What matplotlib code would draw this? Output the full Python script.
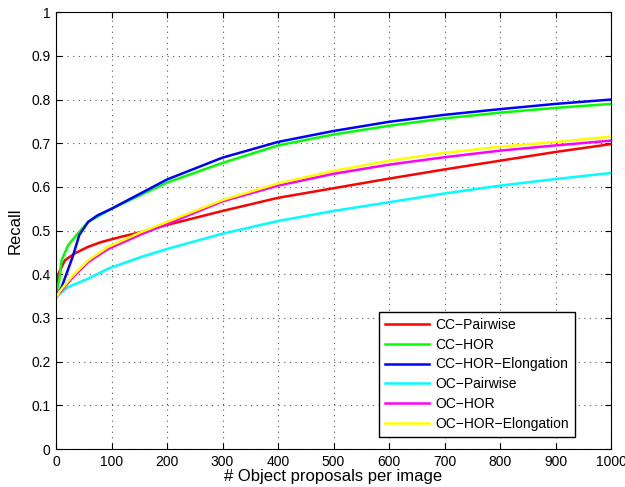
import numpy as np
import matplotlib
matplotlib.use('Agg')
import matplotlib.pyplot as plt

plt.rcParams['font.family'] = ['Liberation Sans', 'DejaVu Sans']

# Recall vs number of proposals
x_cc_pair = [0, 4, 16, 34, 58, 82, 100, 118, 154, 200, 300, 400, 500, 600, 700, 800, 900, 1000]
cc_pair = [0.35, 0.40, 0.432, 0.448, 0.463, 0.474, 0.48, 0.486, 0.497, 0.513, 0.545, 0.575, 0.597, 0.619, 0.64, 0.66, 0.68, 0.698]

x_cc_hor = [0, 6, 10, 22, 40, 58, 100, 200, 300, 400, 500, 600, 700, 800, 900, 1000]
cc_hor = [0.35, 0.39, 0.432, 0.467, 0.494, 0.52, 0.55, 0.61, 0.655, 0.695, 0.72, 0.740, 0.757, 0.77, 0.781, 0.790]

x_cc_elong = [0, 10, 20, 30, 42, 58, 75, 100, 200, 300, 400, 500, 600, 700, 800, 900, 1000]
cc_elong = [0.35, 0.37, 0.405, 0.44, 0.49, 0.52, 0.535, 0.55, 0.617, 0.667, 0.703, 0.728, 0.749, 0.765, 0.778, 0.79, 0.800]

x_oc_pair = [0, 6, 22, 58, 94, 154, 200, 300, 400, 500, 600, 700, 800, 900, 1000]
oc_pair = [0.345, 0.355, 0.371, 0.39, 0.413, 0.44, 0.458, 0.493, 0.522, 0.545, 0.565, 0.585, 0.603, 0.618, 0.632]

x_oc_hor = [0, 6, 28, 58, 94, 154, 200, 300, 400, 500, 600, 700, 800, 900, 1000]
oc_hor = [0.345, 0.357, 0.39, 0.428, 0.458, 0.492, 0.515, 0.567, 0.603, 0.63, 0.651, 0.668, 0.683, 0.695, 0.706]

x_oc_elong = [0, 6, 28, 58, 94, 154, 200, 300, 400, 500, 600, 700, 800, 900, 1000]
oc_elong = [0.345, 0.36, 0.394, 0.432, 0.463, 0.497, 0.52, 0.57, 0.608, 0.637, 0.66, 0.678, 0.692, 0.703, 0.715]

labels = ['CC\u2212Pairwise', 'CC\u2212HOR', 'CC\u2212HOR\u2212Elongation',
          'OC\u2212Pairwise', 'OC\u2212HOR', 'OC\u2212HOR\u2212Elongation']
colors = ['#ff0000', '#00ff00', '#0000ff', '#00ffff', '#ff00ff', '#ffff00']
xs = [x_cc_pair, x_cc_hor, x_cc_elong, x_oc_pair, x_oc_hor, x_oc_elong]
ys = [cc_pair, cc_hor, cc_elong, oc_pair, oc_hor, oc_elong]

fig = plt.figure(figsize=(6.25, 4.87), dpi=100)
ax = fig.add_axes([0.0896, 0.078, 0.888, 0.897])

for x, y, c, lab in zip(xs, ys, colors, labels):
    ax.plot(x, y, color=c, linewidth=1.8, label=lab)

ax.set_xlim(0, 1000)
ax.set_ylim(0, 1)
ax.set_xticks(np.arange(0, 1001, 100))
ax.set_yticks(np.arange(0, 1.01, 0.1))
ax.set_yticklabels(['0', '0.1', '0.2', '0.3', '0.4', '0.5', '0.6', '0.7', '0.8', '0.9', '1'])
ax.tick_params(direction='in', length=4, labelsize=10, top=True, right=True, pad=4)
ax.grid(True, linestyle=(0, (1, 4)), color='#555555', linewidth=0.8)
for s in ax.spines.values():
    s.set_linewidth(0.8)

ax.set_xlabel('# Object proposals per image', fontsize=12, labelpad=0)
ax.set_ylabel('Recall', fontsize=12, labelpad=6)

leg = ax.legend(loc='lower right', bbox_to_anchor=(0.935, 0.027), fontsize=10,
                frameon=True, fancybox=False, edgecolor='black', framealpha=1,
                borderaxespad=0, handlelength=3.2, handletextpad=0.4,
                labelspacing=0.42, borderpad=0.45)
leg.get_frame().set_linewidth(1.0)

plt.savefig('out.png', dpi=100)
